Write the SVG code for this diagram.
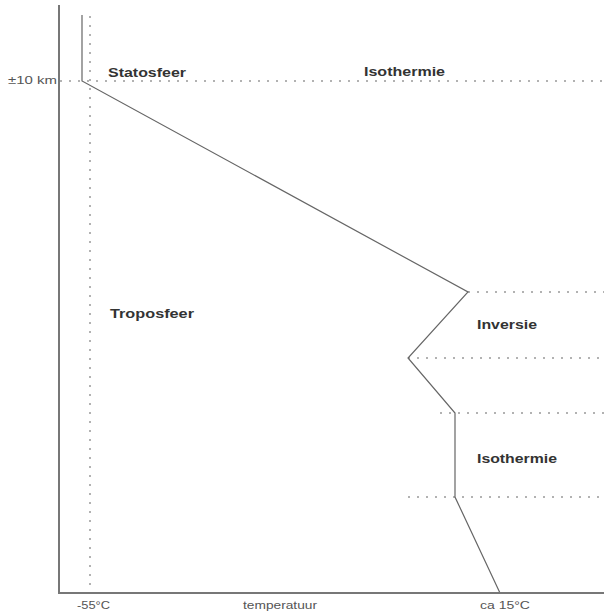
<svg xmlns="http://www.w3.org/2000/svg" width="604" height="611" viewBox="0 0 604 611">
<style>
.axis{stroke:#777;stroke-width:2;fill:none}
.prof{stroke:#666;stroke-width:1.2;fill:none}
.dot{stroke:#999;stroke-width:1.5;stroke-dasharray:2,7;fill:none}
.lbl{font-family:"Liberation Sans",Arial,sans-serif;font-size:12.5px;font-weight:bold;fill:#333}
.sm{font-family:"Liberation Sans",Arial,sans-serif;font-size:11px;fill:#555}
</style>
<rect width="604" height="611" fill="#fff"/>
<g id="connectors">
<line class="dot" x1="90" y1="16" x2="90" y2="593"/>
<line class="dot" x1="60" y1="81" x2="604" y2="81"/>
<line class="dot" x1="468" y1="292" x2="604" y2="292"/>
<line class="dot" x1="408" y1="358" x2="604" y2="358"/>
<line class="dot" x1="440" y1="413" x2="604" y2="413"/>
<line class="dot" x1="408" y1="497" x2="604" y2="497"/>
<polyline class="prof" points="82,15 82,81 468,292 408,358 455,413 455,497 500,593"/>
<line class="axis" x1="59" y1="5" x2="59" y2="593"/>
<line class="axis" x1="58" y1="593" x2="604" y2="593"/>
</g>
<g id="labels">
<text class="sm" x="8" y="84" textLength="49" lengthAdjust="spacingAndGlyphs">±10 km</text>
<text class="lbl" x="108" y="77" textLength="78" lengthAdjust="spacingAndGlyphs">Statosfeer</text>
<text class="lbl" x="364" y="76" textLength="81" lengthAdjust="spacingAndGlyphs">Isothermie</text>
<text class="lbl" x="110" y="318" textLength="84" lengthAdjust="spacingAndGlyphs">Troposfeer</text>
<text class="lbl" x="477" y="329" textLength="60" lengthAdjust="spacingAndGlyphs">Inversie</text>
<text class="lbl" x="477" y="463" textLength="80" lengthAdjust="spacingAndGlyphs">Isothermie</text>
<text class="sm" x="77" y="609" textLength="33" lengthAdjust="spacingAndGlyphs">-55°C</text>
<text class="sm" x="243" y="609" textLength="74" lengthAdjust="spacingAndGlyphs">temperatuur</text>
<text class="sm" x="480" y="609" textLength="50" lengthAdjust="spacingAndGlyphs">ca 15°C</text>
</g>
</svg>
